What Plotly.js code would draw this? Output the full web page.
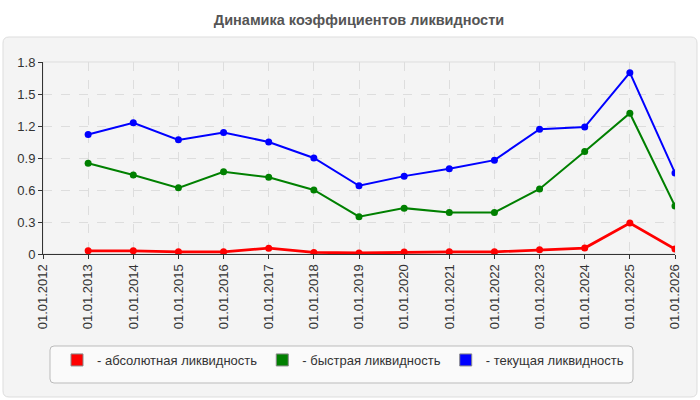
<!DOCTYPE html>
<html>
<head>
<meta charset="utf-8">
<script src="https://cdn.plot.ly/plotly-3.0.1.min.js"></script>
<style>
  html, body { margin: 0; padding: 0; background: #fff; }
  #chart { width: 700px; height: 400px; }
</style>
</head>
<body>
<div id="chart"></div>
<script>
// годы отчётных дат
var years = [2013, 2014, 2015, 2016, 2017, 2018, 2019, 2020, 2021, 2022, 2023, 2024, 2025, 2026];
var tickYears = [2012, 2013, 2014, 2015, 2016, 2017, 2018, 2019, 2020, 2021, 2022, 2023, 2024, 2025, 2026];
var tickLabels = tickYears.map(function(y) { return '01.01.' + y; });

var absLiq = [0.03, 0.03, 0.02, 0.02, 0.055, 0.015, 0.01, 0.018, 0.02, 0.02, 0.04, 0.056, 0.29, 0.047];
var quickLiq = [0.85, 0.74, 0.62, 0.77, 0.72, 0.60, 0.35, 0.43, 0.39, 0.39, 0.61, 0.96, 1.32, 0.45];
var curLiq = [1.12, 1.23, 1.07, 1.14, 1.05, 0.90, 0.64, 0.73, 0.80, 0.88, 1.17, 1.19, 1.70, 0.76];

var seriesNames = ['- абсолютная ликвидность', '- быстрая ликвидность', '- текущая ликвидность'];
var seriesColors = ['#ff0000', '#008000', '#0000ff'];

// размеры области построения в пикселях
var L = 43, R = 25, T = 62, B = 146, W = 700, H = 400;
function px(x) { return (x - L) / (W - L - R); }
function py(y) { return (H - B - y) / (H - T - B); }

function lineTrace(vals, i, width) {
  return {
    type: 'scatter', mode: 'lines+markers',
    x: years, y: vals,
    line: { color: seriesColors[i], width: width },
    marker: { color: seriesColors[i], size: 7 },
    showlegend: false, hoverinfo: 'x+y'
  };
}

function legendTrace(i) {
  return {
    type: 'bar', x: [null], y: [null],
    name: seriesNames[i],
    marker: { color: seriesColors[i], line: { color: '#888', width: 1 } },
    hoverinfo: 'skip'
  };
}

var data = [
  lineTrace(curLiq, 2, 2),
  lineTrace(quickLiq, 1, 2),
  lineTrace(absLiq, 0, 2.8),
  legendTrace(0), legendTrace(1), legendTrace(2)
];

function roundRect(x0, y0, x1, y1, r) {
  var a0 = px(x0), a1 = px(x1), b0 = py(y0), b1 = py(y1);
  var rx = r / (W - L - R), ry = r / (H - T - B);
  return 'M' + (a0 + rx) + ',' + b0 +
    ' L' + (a1 - rx) + ',' + b0 + ' Q' + a1 + ',' + b0 + ' ' + a1 + ',' + (b0 - ry) +
    ' L' + a1 + ',' + (b1 + ry) + ' Q' + a1 + ',' + b1 + ' ' + (a1 - rx) + ',' + b1 +
    ' L' + (a0 + rx) + ',' + b1 + ' Q' + a0 + ',' + b1 + ' ' + a0 + ',' + (b1 + ry) +
    ' L' + a0 + ',' + (b0 - ry) + ' Q' + a0 + ',' + b0 + ' ' + (a0 + rx) + ',' + b0 + ' Z';
}

var layout = {
  width: W, height: H,
  margin: { l: L, r: R, t: T, b: B },
  paper_bgcolor: '#ffffff',
  plot_bgcolor: '#fcfcf6',
  font: { family: 'Liberation Sans, Arial, sans-serif', size: 12, color: '#333' },
  title: {
    text: '<b>Динамика коэффициентов ликвидности</b>',
    font: { size: 14.5, color: '#555' },
    x: 0.5, xref: 'paper', xanchor: 'center', y: 1 - 20 / H, yanchor: 'middle'
  },
  xaxis: {
    range: [2012, 2026],
    tickvals: tickYears, ticktext: tickLabels,
    tickangle: -90,
    tickfont: { size: 13, color: '#333' },
    showgrid: true, gridcolor: '#dddddd', griddash: 'dash', gridwidth: 1,
    showline: true, linecolor: '#333', linewidth: 1,
    ticks: 'outside', ticklen: 4, tickcolor: '#333',
    zeroline: false, fixedrange: true, automargin: false
  },
  yaxis: {
    range: [0, 1.8],
    tickvals: [0, 0.3, 0.6, 0.9, 1.2, 1.5, 1.8],
    ticktext: ['0', '0.3', '0.6', '0.9', '1.2', '1.5', '1.8'],
    tickfont: { size: 13, color: '#333' },
    showgrid: true, gridcolor: '#dddddd', griddash: 'dash', gridwidth: 1,
    showline: true, linecolor: '#333', linewidth: 1,
    ticks: 'outside', ticklen: 4, tickcolor: '#333',
    zeroline: false, fixedrange: true, automargin: false
  },
  legend: {
    orientation: 'h',
    x: px(57), y: py(345), xanchor: 'left', yanchor: 'top',
    bgcolor: 'rgba(0,0,0,0)', borderwidth: 0,
    font: { size: 13, color: '#333' },
    traceorder: 'normal'
  },
  shapes: [
    {
      type: 'path', xref: 'paper', yref: 'paper', layer: 'below',
      path: roundRect(3, 37, 697, 397, 6),
      fillcolor: '#f4f4f4', line: { color: '#dddddd', width: 1 }
    },
    {
      type: 'rect', xref: 'paper', yref: 'paper', layer: 'below',
      x0: 0, x1: 1, y0: 0, y1: 1,
      line: { color: '#dddddd', width: 1 }
    },
    {
      // рамка легенды
      type: 'path', xref: 'paper', yref: 'paper', layer: 'below',
      path: roundRect(50, 346, 633, 383, 4),
      fillcolor: '#fafafa', line: { color: '#bbbbbb', width: 1 }
    }
  ],
  showlegend: true,
  hovermode: 'closest'
};

Plotly.newPlot('chart', data, layout, { displayModeBar: false, staticPlot: true });
</script>
</body>
</html>
